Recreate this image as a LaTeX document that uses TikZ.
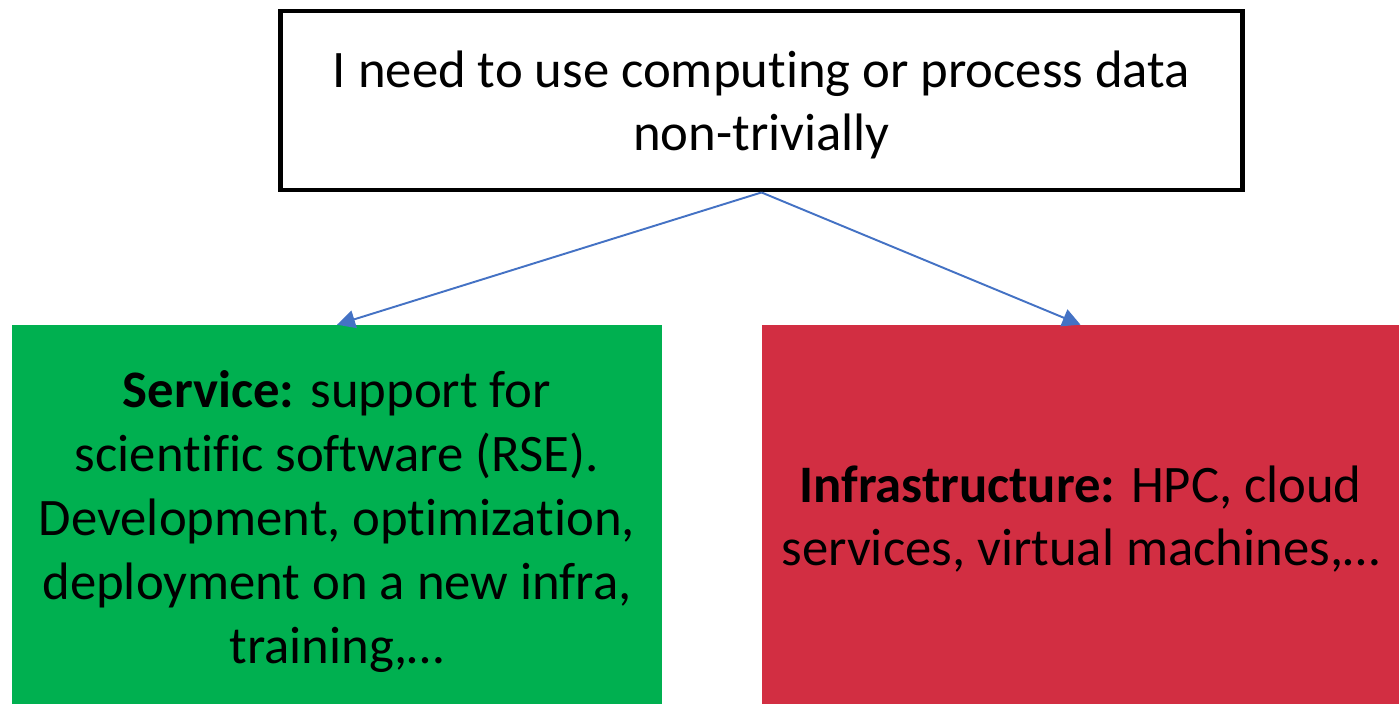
\documentclass[tikz,border=0pt]{standalone}
\usepackage{fontspec}
\setmainfont[Ligatures=NoCommon]{Carlito}
\usepackage{xcolor}
\usetikzlibrary{arrows.meta}
\definecolor{boxgreen}{HTML}{00B050}
\definecolor{boxred}{HTML}{D22E42}
\definecolor{arrowblue}{HTML}{4472C4}
\tikzset{
  question/.style={draw=black,line width=2.8pt,fill=white,minimum width=19.26cm,minimum height=3.58cm,inner sep=0pt},
  answer/.style={minimum height=7.58cm,inner sep=0pt},
  boxtext/.style={align=center,inner sep=0pt,yshift=-0.09cm},
  branch/.style={draw=arrowblue,line width=1.1pt,-{Triangle[length=0.36cm,width=0.36cm]}}
}
\begin{document}
\begin{tikzpicture}[x=0.02cm,y=-0.02cm,font=\fontsize{30}{36.3}\selectfont]
\useasboundingbox (0,0) rectangle (1399,704);
% boxes
\node[question] (need) at (761.5,100.5){};
\node[answer,fill=boxgreen,minimum width=13cm] (service) at (337,514.5){};
\node[answer,fill=boxred,minimum width=12.74cm] (infra) at (1080.5,514.5){};
% texts
\node[boxtext] (needtext) at (need.center){I need to use computing or process data\\non-trivially};
\node[boxtext,yshift=-0.05cm] (servicetext) at (service.center){\textbf{Service:} support for\\scientific software (RSE).\\Development, optimization,\\deployment on a new infra,\\training,\dots};
\node[boxtext] (infratext) at (infra.center){\textbf{Infrastructure:} HPC, cloud\\services, virtual machines,\dots};
% arrows
\draw[branch] (need.south) -- (service.north);
\draw[branch] (need.south) -- (infra.north);
\end{tikzpicture}
\end{document}
